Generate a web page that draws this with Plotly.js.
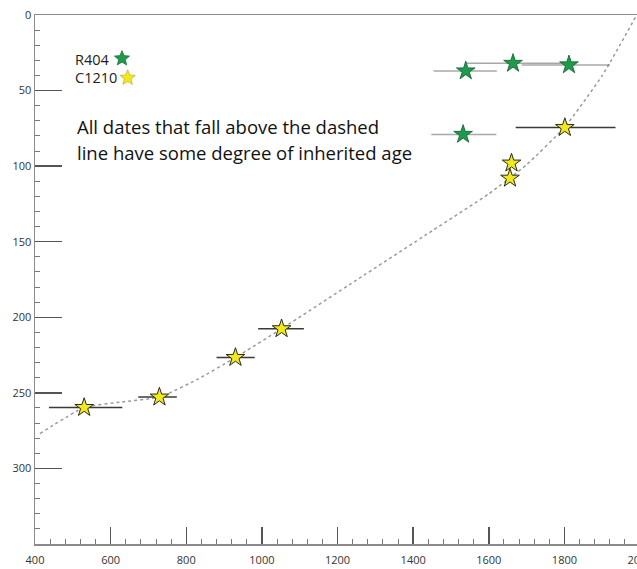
<!DOCTYPE html>
<html>
<head>
<meta charset="utf-8">
<script src="https://cdn.plot.ly/plotly-3.0.1.min.js"></script>
<style>
html, body { margin:0; padding:0; overflow:hidden; background:#fff; }
#chart { width:680px; height:569px; }
</style>
</head>
<body>
<div id="chart"></div>
<script>
// ---- data ----
const r404X = [1539, 1664, 1812, 1532];
const r404Y = [37, 32, 33, 79];
const r404ErrPlus = [82, 132, 108, 88];
const r404ErrMinus = [85, 123, 125, 84];

const c1210X = [1801, 1660, 1656, 1052, 930, 729, 530];
const c1210Y = [74.5, 98, 108, 207.6, 226.6, 252.8, 259.7];
const c1210ErrPlus = [134, 0, 0, 59, 51, 46, 101];
const c1210ErrMinus = [130, 0, 0, 62, 50, 56, 93];

// dashed line (boundary) read along its path
const lineX = [413, 530, 630, 729, 830, 930, 1052, 1250, 1450, 1600, 1700, 1801, 1900, 1991];
const lineY = [277, 259.7, 256, 252.8, 241, 226.6, 207.6, 175.4, 142.8, 118.3, 99, 74, 40, 0];

const xTicks = [400, 600, 800, 1000, 1200, 1400, 1600, 1800, 2000];
const yTicks = [0, 50, 100, 150, 200, 250, 300];

const seriesNames = ['R404', 'C1210'];
const noteLines = ['All dates that fall above the dashed', 'line have some degree of inherited age'];

// ---- styling ----
const FONT = 'Open Sans, Noto Sans, sans-serif';
const GREEN = '#1f9a4c', GREEN_EDGE = '#0e5e2c';
const YELLOW = '#f2e81e', YELLOW_EDGE = '#2a2a1a';

function starPath(R, r) {
  let p = '';
  for (let i = 0; i < 10; i++) {
    const rad = (i % 2 === 0) ? R : r;
    const a = Math.PI * i / 5;
    const px = rad * Math.sin(a), py = rad * Math.cos(a);
    p += (i === 0 ? 'M' : 'L') + px.toFixed(2) + ',' + py.toFixed(2);
  }
  return p + 'Z';
}

const traces = [
  {
    x: lineX, y: lineY, mode: 'lines', type: 'scatter',
    line: { color: '#9a9a9a', width: 1.5, dash: '3px,3px', shape: 'spline', smoothing: 0.5 },
    hoverinfo: 'skip', showlegend: false
  },
  {
    x: r404X, y: r404Y, mode: 'markers', type: 'scatter', name: seriesNames[0],
    marker: { symbol: 'star', size: 14, color: GREEN, line: { color: GREEN_EDGE, width: 0.8 } },
    error_x: { type: 'data', symmetric: false, array: r404ErrPlus, arrayminus: r404ErrMinus,
               color: 'rgba(110,110,110,0.6)', thickness: 1.5, width: 0 },
    showlegend: false
  },
  {
    x: c1210X, y: c1210Y, mode: 'markers', type: 'scatter', name: seriesNames[1],
    marker: { symbol: 'star', size: 14, color: YELLOW, line: { color: YELLOW_EDGE, width: 1 } },
    error_x: { type: 'data', symmetric: false, array: c1210ErrPlus, arrayminus: c1210ErrMinus,
               color: '#3a3a3a', thickness: 1.5, width: 0 },
    showlegend: false
  }
];

const axisCommon = {
  showgrid: false, zeroline: false, showline: true, linecolor: '#8a8a8a', linewidth: 1.5,
  mirror: true, ticks: 'inside', tickcolor: '#555', tickwidth: 1.5,
  tickfont: { family: FONT, size: 11, color: '#333' }
};

const layout = {
  width: 680, height: 569,
  margin: { l: 35, r: 21, t: 15, b: 25 },
  paper_bgcolor: '#fff', plot_bgcolor: '#fff',
  xaxis: Object.assign({}, axisCommon, {
    range: [400, 2050], tickmode: 'array', tickvals: xTicks, ticktext: xTicks.map(String),
    ticklen: 17, ticklabelstandoff: 5,
    minor: { ticks: 'inside', ticklen: 5, dtick: 40, tick0: 400, tickcolor: '#777', tickwidth: 1, showgrid: false }
  }),
  yaxis: Object.assign({}, axisCommon, {
    range: [350, 0], tickmode: 'array', tickvals: yTicks, ticktext: yTicks.map(String),
    ticklen: 27,
    minor: { ticks: 'inside', ticklen: 5, dtick: 10, tick0: 0, tickcolor: '#777', tickwidth: 1, showgrid: false }
  }),
  annotations: [
    { x: 500, y: 29.5, xref: 'x', yref: 'y', text: seriesNames[0], showarrow: false, xanchor: 'left',
      font: { family: FONT, size: 14.5, color: '#222' } },
    { x: 500, y: 41.6, xref: 'x', yref: 'y', text: seriesNames[1], showarrow: false, xanchor: 'left',
      font: { family: FONT, size: 14.5, color: '#222' } },
    { x: 506, y: 73.8, xref: 'x', yref: 'y', text: noteLines[0], showarrow: false, xanchor: 'left',
      font: { family: FONT, size: 18.5, color: '#111' } },
    { x: 506, y: 91, xref: 'x', yref: 'y', text: noteLines[1], showarrow: false, xanchor: 'left',
      font: { family: FONT, size: 18.5, color: '#111' } }
  ],
  shapes: [
    { type: 'path', xref: 'x', yref: 'y', xsizemode: 'pixel', ysizemode: 'pixel',
      xanchor: 630, yanchor: 28.8, path: starPath(8, 3.6),
      fillcolor: GREEN, line: { color: GREEN_EDGE, width: 0.6 } },
    { type: 'path', xref: 'x', yref: 'y', xsizemode: 'pixel', ysizemode: 'pixel',
      xanchor: 645, yanchor: 41.6, path: starPath(8, 3.6),
      fillcolor: YELLOW, line: { color: '#b0a020', width: 0.6 } }
  ]
};

Plotly.newPlot('chart', traces, layout, { displayModeBar: false, staticPlot: true });
</script>
</body>
</html>
